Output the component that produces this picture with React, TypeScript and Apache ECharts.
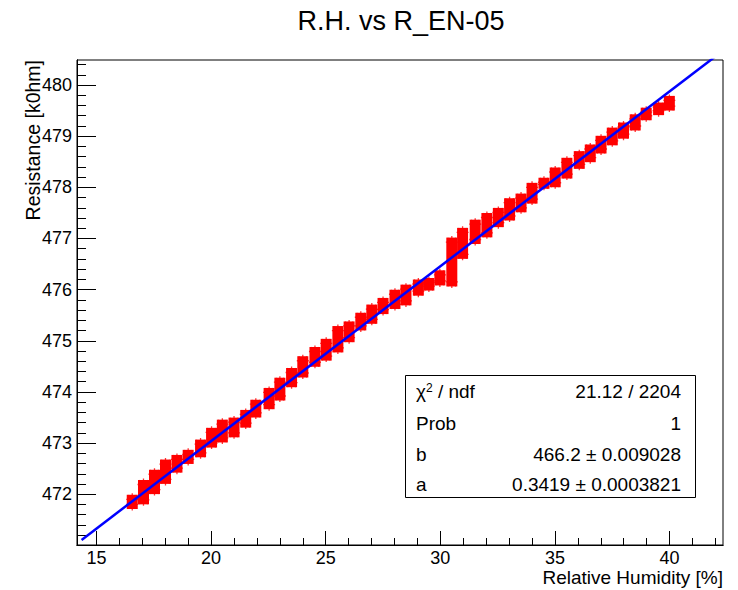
import React, { useEffect, useRef } from "react";
import * as echarts from "echarts";

// ---- data ----
const titleText = "R.H. vs R_EN-05";
const xTitle = "Relative Humidity [%]";
const yTitle = "Resistance [k0hm]";

// humidity clusters (x), and the low / high resistance of each cluster
const clusterX = [16.56, 17.05, 17.53, 18.01, 18.51, 19.0, 19.54, 20.02, 20.49, 21.0, 21.51, 21.95, 22.53, 23.0, 23.51, 24.0, 24.53, 25.02, 25.53, 26.02, 26.53, 27.01, 27.5, 28.02, 28.5, 29.04, 29.5, 29.98, 30.5, 30.97, 31.52, 32.03, 32.53, 33.02, 33.52, 34.0, 34.52, 35.01, 35.52, 36.06, 36.54, 37.01, 37.5, 37.99, 38.5, 38.98, 39.52, 39.99];
const clusterLo = [471.8, 471.89, 472.09, 472.29, 472.51, 472.68, 472.81, 473.0, 473.1, 473.2, 473.39, 473.59, 473.75, 473.92, 474.18, 474.37, 474.58, 474.7, 474.86, 475.06, 475.29, 475.42, 475.61, 475.71, 475.78, 475.97, 476.07, 476.17, 476.15, 476.69, 476.98, 477.11, 477.31, 477.44, 477.6, 477.77, 478.06, 478.09, 478.26, 478.45, 478.58, 478.75, 478.91, 479.04, 479.2, 479.4, 479.5, 479.59];
const clusterHi = [471.9, 472.19, 472.39, 472.59, 472.68, 472.78, 472.98, 473.21, 473.37, 473.41, 473.56, 473.76, 473.99, 474.19, 474.38, 474.61, 474.79, 474.95, 475.2, 475.29, 475.46, 475.62, 475.75, 475.91, 476.01, 476.11, 476.14, 476.29, 476.93, 477.12, 477.28, 477.41, 477.51, 477.7, 477.79, 478.0, 478.1, 478.3, 478.49, 478.62, 478.75, 478.92, 479.08, 479.18, 479.34, 479.47, 479.57, 479.7];

// fit y = b + a*x
const fitB = 466.2;
const fitA = 0.3419;
const fitRange = [14.35, 42.33];

const statNames = ["χ{s|2}{n| / ndf}", "Prob", "b", "a"];
const statValues = ["21.12 / 2204", "1", "466.2 ± 0.009028", "0.3419 ± 0.0003821"];

const xMajor = [15, 20, 25, 30, 35, 40];
const yMajor = [472, 473, 474, 475, 476, 477, 478, 479, 480];
const xMin = 14.15, xMax = 42.33;
const yMin = 471.007, yMax = 480.49;

const FONT = "Liberation Sans, Arial, Helvetica, sans-serif";

export default function App() {
  const ref = useRef<HTMLDivElement>(null);
  useEffect(() => {
    if (!ref.current) return;
    const chart = echarts.init(ref.current, null, { renderer: "svg" });

    const xMinor: number[] = [];
    for (let v = 15; v <= 42; v++) xMinor.push(v);
    const yMinor: number[] = [];
    for (let i = 1; i <= 47; i++) yMinor.push(Math.round((471 + 0.2 * i) * 10) / 10);

    const clusters = clusterX.map((x, i) => [x, clusterLo[i], clusterHi[i]]);
    const ends: number[][] = [];
    clusterX.forEach((x, i) => {
      ends.push([x, clusterLo[i]]);
      ends.push([x, clusterHi[i]]);
    });
    const fitLine = fitRange.map((x) => [x, fitB + fitA * x]);

    const axisCommon = {
      type: "value",
      axisLine: { show: true, onZero: false, lineStyle: { color: "#000", width: 1 } },
      splitLine: { show: false },
    };

    const SF = 19;
    const rowY = [391.7, 423.3, 454.3, 484.3];
    const statGraphics: any[] = [
      {
        type: "rect",
        shape: { x: 405.5, y: 375.5, width: 290, height: 122 },
        style: { fill: "#fff", stroke: "#000", lineWidth: 1 },
        z: 100,
      },
    ];
    statNames.forEach((n, i) => {
      statGraphics.push({
        type: "text",
        x: 416,
        y: rowY[i],
        z: 101,
        style: {
          text: i === 0 ? n : `{n|${n}}`,
          textAlign: "left",
          textVerticalAlign: "middle",
          fontFamily: FONT,
          fontSize: SF,
          fill: "#000",
          rich: {
            n: { fontSize: SF, fontFamily: FONT, fill: "#000" },
            s: { fontSize: 12, fontFamily: FONT, fill: "#000", verticalAlign: "top", padding: [0, 0, 8, 0] },
          },
        },
      });
      statGraphics.push({
        type: "text",
        x: 681,
        y: rowY[i],
        z: 101,
        style: {
          text: statValues[i],
          textAlign: "right",
          textVerticalAlign: "middle",
          fontFamily: FONT,
          fontSize: SF,
          fill: "#000",
        },
      });
    });

    chart.setOption({
      animation: false,
      backgroundColor: "#fff",
      grid: {
        left: 77,
        right: 15,
        top: 60,
        bottom: 45,
        show: true,
        borderColor: "#000",
        borderWidth: 1,
        backgroundColor: "transparent",
      },
      xAxis: [
        {
          ...axisCommon,
          position: "bottom",
          min: xMin,
          max: xMax,
          axisTick: { show: true, inside: true, length: 14, customValues: xMajor, lineStyle: { color: "#000" } },
          axisLabel: { show: true, customValues: xMajor, fontSize: 18, lineHeight: 18, color: "#000", fontFamily: FONT, margin: 4 },
        },
        {
          ...axisCommon,
          position: "bottom",
          min: xMin,
          max: xMax,
          axisTick: { show: true, inside: true, length: 7, customValues: xMinor, lineStyle: { color: "#000" } },
          axisLabel: { show: false },
        },
      ],
      yAxis: [
        {
          ...axisCommon,
          position: "left",
          min: yMin,
          max: yMax,
          axisTick: { show: true, inside: true, length: 19, customValues: yMajor, lineStyle: { color: "#000" } },
          axisLabel: { show: true, customValues: yMajor, fontSize: 18, color: "#000", fontFamily: FONT, margin: 5 },
        },
        {
          ...axisCommon,
          position: "left",
          min: yMin,
          max: yMax,
          axisTick: { show: true, inside: true, length: 9, customValues: yMinor, lineStyle: { color: "#000" } },
          axisLabel: { show: false },
        },
      ],
      series: [
        {
          type: "custom",
          xAxisIndex: 0,
          yAxisIndex: 0,
          data: clusters,
          encode: { x: 0, y: [1, 2] },
          clip: true,
          renderItem: (params: any, api: any) => {
            const x = api.value(0);
            const top = api.coord([x, api.value(2)]);
            const bot = api.coord([x, api.value(1)]);
            return {
              type: "rect",
              shape: { x: top[0] - 5.5, y: top[1] - 4.5, width: 11, height: bot[1] - top[1] + 9 },
              style: { fill: "#ff0000" },
            };
          },
          z: 2,
        },
        {
          type: "scatter",
          xAxisIndex: 0,
          yAxisIndex: 0,
          data: ends,
          symbol: "path://M0,5 L10,5 M5,0 L5,10 M1.5,1.5 L8.5,8.5 M8.5,1.5 L1.5,8.5",
          symbolSize: 12,
          itemStyle: { color: "#ff0000", borderColor: "#ff0000", borderWidth: 1.3 },
          z: 3,
        },
        {
          type: "line",
          xAxisIndex: 0,
          yAxisIndex: 0,
          data: fitLine,
          showSymbol: false,
          symbol: "none",
          clip: true,
          lineStyle: { color: "#0000ff", width: 2.5 },
          z: 5,
        },
      ],
      graphic: [
        {
          type: "text",
          x: 401,
          y: 21,
          style: {
            text: titleText,
            textAlign: "center",
            textVerticalAlign: "middle",
            fontFamily: FONT,
            fontSize: 27,
            fill: "#000",
          },
        },
        {
          type: "text",
          x: 723,
          y: 577,
          style: {
            text: xTitle,
            textAlign: "right",
            textVerticalAlign: "middle",
            fontFamily: FONT,
            fontSize: 19,
            lineHeight: 19,
            fill: "#000",
          },
        },
        {
          type: "text",
          x: 33,
          y: 60,
          rotation: Math.PI / 2,
          style: {
            text: yTitle,
            textAlign: "right",
            textVerticalAlign: "middle",
            fontFamily: FONT,
            fontSize: 19.5,
            fill: "#000",
          },
        },
        ...statGraphics,
      ],
    });

    return () => chart.dispose();
  }, []);

  return <div ref={ref} style={{ width: 738, height: 590, position: "absolute", left: 0, top: 0 }} />;
}
